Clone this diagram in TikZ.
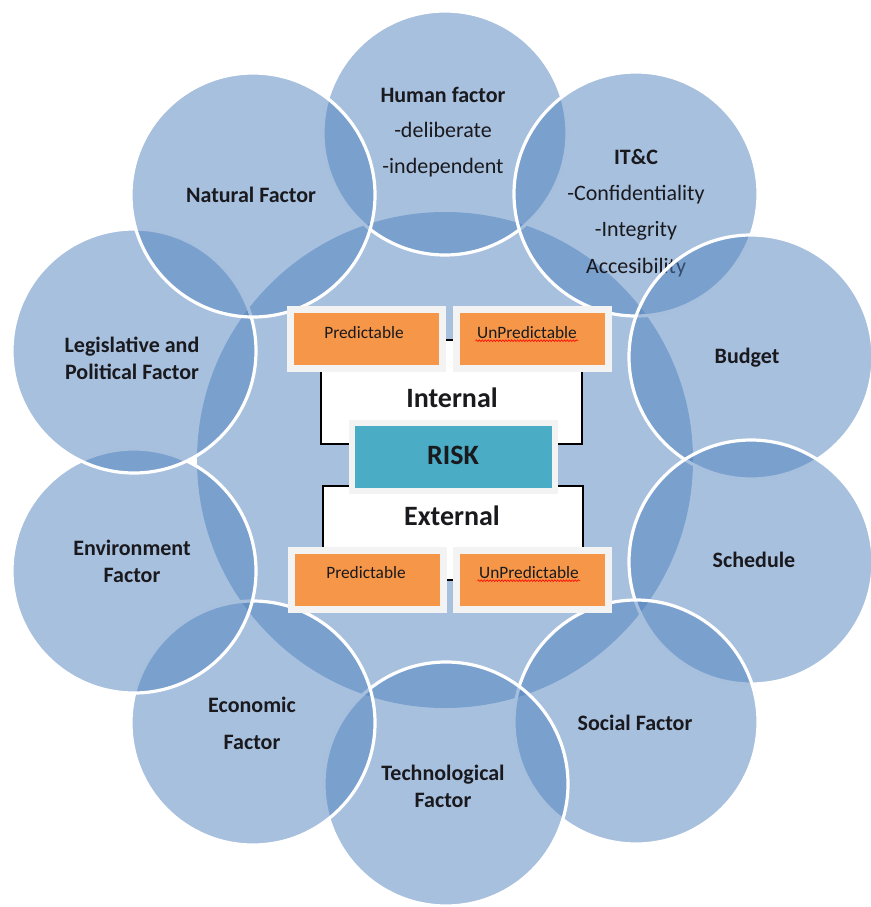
\documentclass[tikz,border=0pt]{standalone}
\usepackage{fontspec}
\setmainfont{Carlito}
\usetikzlibrary{shadows, decorations.pathmorphing}

\definecolor{ringblue}{RGB}{79,129,189}
\definecolor{boxorange}{RGB}{245,150,72}
\definecolor{riskteal}{RGB}{75,172,198}
\definecolor{framegray}{RGB}{243,243,243}
\definecolor{shadowgray}{RGB}{160,140,128}
\definecolor{inktext}{RGB}{25,25,30}

\tikzset{
  hub/.style={circle, minimum size=372pt, inner sep=0pt, fill=ringblue, fill opacity=0.5},
  factor/.style={circle, minimum size=183pt, inner sep=0pt, fill=ringblue, fill opacity=0.5, draw=white, draw opacity=1, line width=2.4pt},
  factortext/.style={font=\fontsize{16.5}{20.25}\selectfont\bfseries, align=center, text=inktext, inner sep=0.75pt},
  listtext/.style={font=\fontsize{16.5}{26.5}\selectfont, align=center, text=inktext, inner sep=0.75pt},
  choicebox/.style={rectangle, fill=boxorange, draw=framegray, line width=5.25pt, minimum width=114pt, minimum height=44pt, inner sep=0pt,
    drop shadow={shadow xshift=1.5pt, shadow yshift=-1.8pt, fill=shadowgray, opacity=0.8}},
  choicetext/.style={font=\fontsize{13}{15}\selectfont, text=inktext, inner sep=1pt},
  riskbox/.style={rectangle, fill=riskteal, draw=framegray, line width=4.5pt, minimum width=152pt, minimum height=51pt, inner sep=0pt,
    drop shadow={shadow xshift=1.5pt, shadow yshift=-1.8pt, fill=shadowgray!70, opacity=0.6}},
  headtext/.style={font=\fontsize{21}{24}\selectfont\bfseries, text=inktext, inner sep=0.75pt},
  bracketbox/.style={fill=white, draw=black, line width=1.1pt},
  spellmark/.style={draw=red, line width=0.45pt, decorate, decoration={snake, amplitude=0.65pt, segment length=2.2pt}}
}

\begin{document}
\begin{tikzpicture}[x=0.75pt,y=0.75pt,yscale=-1,xscale=1]
    \useasboundingbox (0,0) rectangle (871,907);

    %Shape: Circle
    \node (hub) at (445,460) [hub] {};

    %Shape: Circle
    \node (human) at (445,133) [factor] {};
    % Text Node
    \node (humantxt) at (443,132) [listtext] {\textbf{Human factor}\\-deliberate\\-independent};
    %Shape: Circle
    \node (itc) at (636,194) [factor] {};
    % Text Node
    \node (itctxt) at (636,213) [listtext, font=\fontsize{16.5}{27.2}\selectfont] {\textbf{IT\&C}\\-Confidentiality\\-Integrity\\Accesibility};
    %Shape: Circle
    \node (budget) at (751,357) [factor] {};
    % Text Node
    \node (budgettxt) at (747,358) [factortext] {Budget};
    %Shape: Circle
    \node (schedule) at (751,562) [factor] {};
    % Text Node
    \node (scheduletxt) at (754,560) [factortext] {Schedule};
    %Shape: Circle
    \node (social) at (636,722) [factor] {};
    % Text Node
    \node (socialtxt) at (635,723) [factortext] {Social Factor};
    %Shape: Circle
    \node (techno) at (446,784) [factor] {};
    % Text Node
    \node (technotxt) at (443,786) [factortext] {Technological\\Factor};
    %Shape: Circle
    \node (economic) at (253,723) [factor] {};
    % Text Node
    \node (economictxt) at (252,723) [factortext, font=\fontsize{16.5}{27.75}\selectfont\bfseries] {Economic\\Factor};
    %Shape: Circle
    \node (environ) at (134,571) [factor] {};
    % Text Node
    \node (environtxt) at (132,561) [factortext] {Environment\\Factor};
    %Shape: Circle
    \node (legis) at (134,351) [factor] {};
    % Text Node
    \node (legistxt) at (132,358) [factortext] {Legislative and\\Political Factor};
    %Shape: Circle
    \node (natural) at (253,195) [factor] {};
    % Text Node
    \node (naturaltxt) at (251,195) [factortext] {Natural Factor};

    %Shape: Rectangle
    \draw [bracketbox] (321,340) rectangle (582,444);
    %Shape: Rectangle
    \draw [bracketbox] (323,486) rectangle (583,580);
    % Text Node
    \node (internal) at (452,398) [headtext] {Internal};
    % Text Node
    \node (external) at (452,516) [headtext] {External};

    %Shape: Rectangle
    \node (ptop) at (366.5,339) [choicebox] {};
    %Shape: Rectangle
    \node (utop) at (532,339) [choicebox] {};
    %Shape: Rectangle
    \node (pbot) at (367,580) [choicebox] {};
    %Shape: Rectangle
    \node (ubot) at (532.5,580) [choicebox] {};
    %Shape: Rectangle
    \node (risk) at (453.5,457) [riskbox] {};

    % Text Node
    \node (ptoptxt) at (364,333) [choicetext] {Predictable};
    % Text Node
    \node (utoptxt) at (527,333) [choicetext] {UnPredictable};
    % Text Node
    \node (pbottxt) at (366,573) [choicetext] {Predictable};
    % Text Node
    \node (ubottxt) at (529,573) [choicetext] {UnPredictable};
    \draw [spellmark] (utoptxt.south west) -- (utoptxt.south east);
    \draw [spellmark] (ubottxt.south west) -- (ubottxt.south east);
    % Text Node
    \node (risktxt) at (453,455) [headtext] {RISK};

\end{tikzpicture}
\end{document}
